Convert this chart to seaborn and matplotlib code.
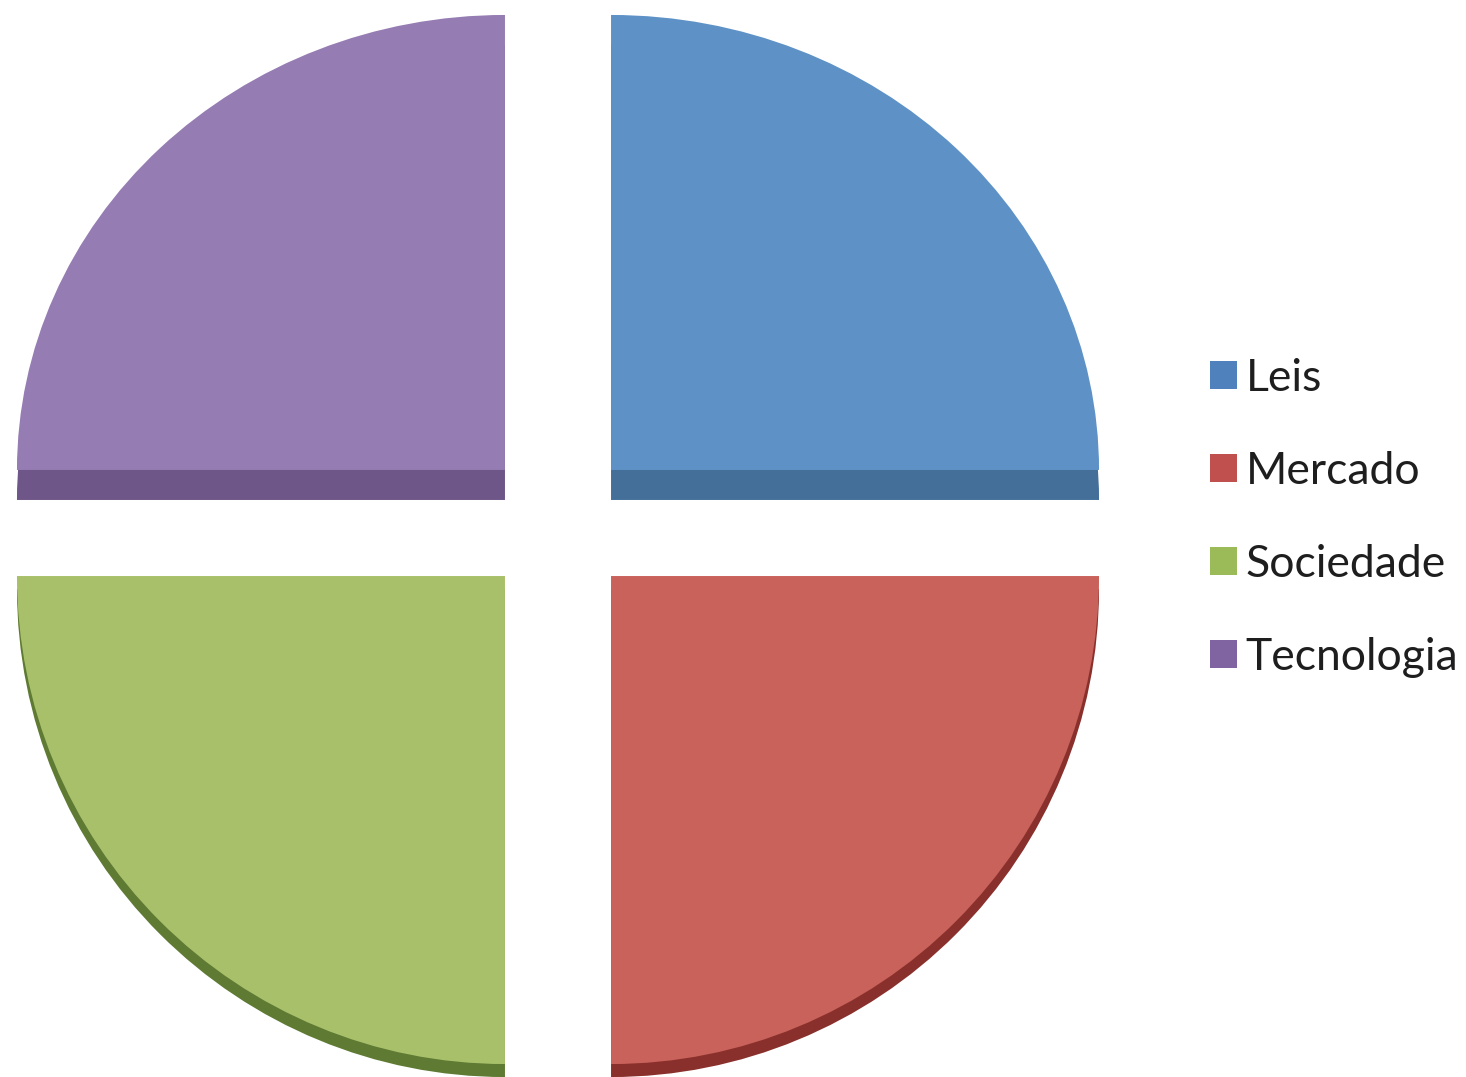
import numpy as np
import matplotlib
matplotlib.use("Agg")
import matplotlib.pyplot as plt
from matplotlib.patches import Patch
from matplotlib.transforms import Affine2D
import seaborn as sns

# data
labels = ["Leis", "Mercado", "Sociedade", "Tecnologia"]
values = [25, 25, 25, 25]
top_colors = ["#5E92C6", "#C8625A", "#A8C06A", "#957CB2"]
side_colors = ["#436F99", "#8A302C", "#5E7A33", "#6E5688"]
legend_colors = ["#4F81BD", "#C0504D", "#9BBB59", "#8064A2"]

sns.set_theme(style="white")
plt.rcParams["font.family"] = ["Lato", "DejaVu Sans"]

W, H = 1466, 1077
fig = plt.figure(figsize=(W / 100, H / 100), dpi=100)
ax = fig.add_axes([0, 0, 1, 1])

# pie geometry in pixel units (y up)
cx, cy = 558, 554
R = 488
gap = 75
depth = 30        # visible thickness under the upper slices
depth_low = 13    # thinner rim under the lower slices
squash = 455 / R  # upper slices look flatter
explode = [gap] * len(values)  # pie explode is in data units here
off = gap / np.sqrt(2)

# side (depth) of the slices
side, _ = ax.pie(values, colors=side_colors, startangle=90, counterclock=False,
                 explode=explode, radius=R, center=(cx, cy - depth),
                 wedgeprops=dict(linewidth=0))
# top surface
top, _ = ax.pie(values, colors=top_colors, startangle=90, counterclock=False,
                explode=explode, radius=R, center=(cx, cy),
                wedgeprops=dict(linewidth=0))

for i in (0, 3):  # Leis, Tecnologia are the upper slices
    for w, base in ((side[i], cy - depth + off), (top[i], cy + off)):
        tr = Affine2D().translate(0, -base).scale(1, squash).translate(0, base)
        w.set_transform(tr + ax.transData)
for i in (1, 2):
    side[i].set_transform(Affine2D().translate(0, depth - depth_low) + ax.transData)

ax.set_xlim(0, W)
ax.set_ylim(0, H)
ax.set_aspect("auto")
ax.set_axis_off()

handles = [Patch(facecolor=c, edgecolor="none") for c in legend_colors]
fig.legend(handles, labels, loc="center left", bbox_to_anchor=(1210 / W, 1 - 518 / H),
           frameon=False, fontsize=32, handlelength=0.6, handleheight=0.6,
           handletextpad=0.2, labelspacing=1.17, borderpad=0, borderaxespad=0,
           labelcolor="#1e1e1e")

fig.savefig("out.png", dpi=100)
